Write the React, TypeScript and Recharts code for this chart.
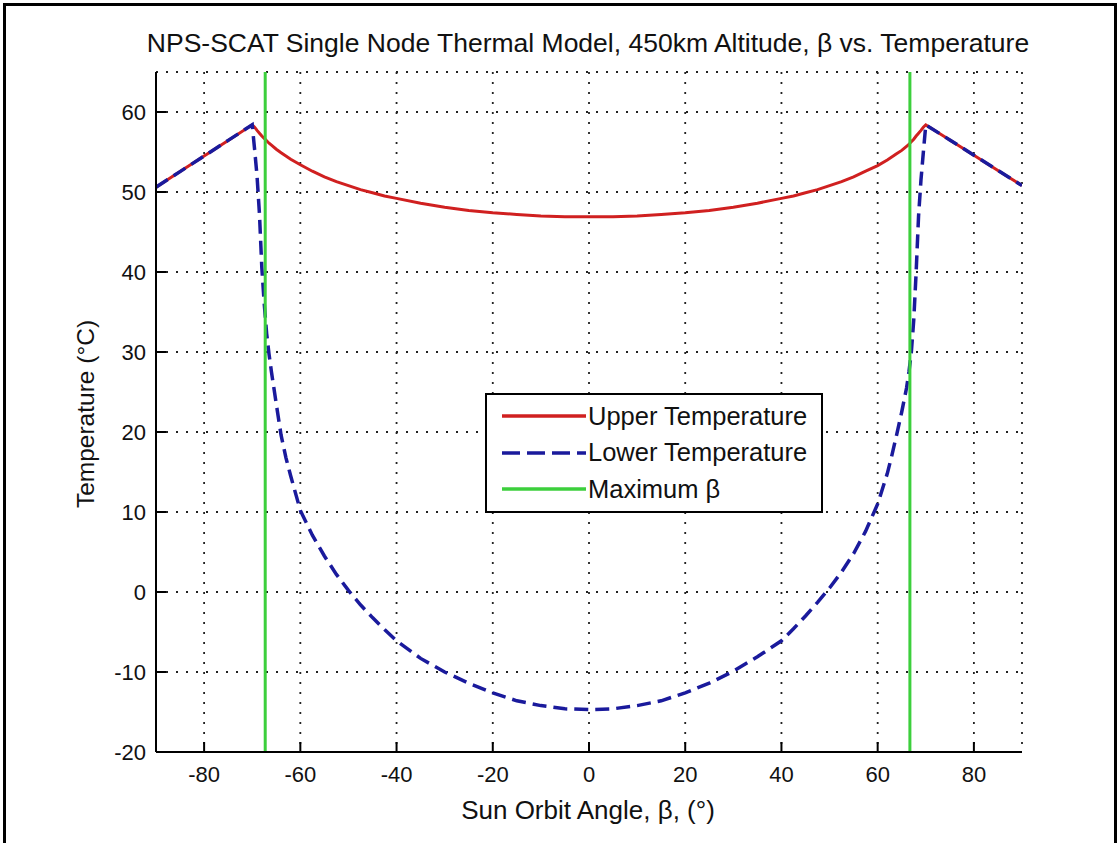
import { LineChart, Line, XAxis, YAxis, CartesianGrid, Legend } from 'recharts';

// sun orbit angle, deg
const betaDeg = [
  -90, -85, -80, -75, -70, -69.5, -69, -68.5, -68, -67.5, -67, -66.5, -66, -65, -64, -63, -62, -60,
  -57.5, -55, -52.5, -50, -47.5, -45, -42.5, -40, -35, -30, -25, -20, -15, -10, -5, 0,
  5, 10, 15, 20, 25, 30, 35, 40, 42.5, 45, 47.5, 50, 52.5, 55, 57.5, 60,
  62, 63, 64, 65, 66, 66.5, 67, 67.5, 68, 68.5, 69, 69.5, 70, 75, 80, 85, 90,
];

const upperTemp = [
  50.6, 52.55, 54.5, 56.45, 58.4, 58.1, 57.7, 57.35, 57.0, 56.7, 56.4, 56.1, 55.85, 55.35, 54.9, 54.5, 54.1, 53.4,
  52.6, 51.9, 51.3, 50.8, 50.3, 49.9, 49.5, 49.2, 48.6, 48.1, 47.7, 47.4, 47.2, 47.0, 46.9, 46.9,
  46.9, 47.0, 47.2, 47.4, 47.7, 48.1, 48.6, 49.2, 49.5, 49.9, 50.3, 50.8, 51.3, 51.9, 52.6, 53.3,
  54.0, 54.4, 54.8, 55.2, 55.7, 55.95, 56.3, 56.6, 57.0, 57.35, 57.7, 58.1, 58.4, 56.5, 54.6, 52.7, 50.8,
];

const lowerTemp = [
  50.6, 52.55, 54.5, 56.45, 58.4, 55.3, 52.0, 47.3, 40.5, 36.0, 32.3, 29.7, 27.5, 23.5, 19.6, 16.8, 14.5, 10.2,
  7.1, 4.5, 2.2, 0.2, -1.6, -3.2, -4.7, -6.1, -8.3, -10.0, -11.4, -12.6, -13.6, -14.2, -14.6, -14.7,
  -14.6, -14.2, -13.6, -12.6, -11.4, -9.9, -8.1, -6.1, -4.6, -3.0, -1.3, 0.5, 2.5, 4.8, 7.6, 11.0,
  14.8, 17.2, 19.8, 22.5, 25.5, 27.5, 30.0, 34.0, 40.0, 47.0, 51.5, 55.0, 58.4, 56.5, 54.6, 52.7, 50.8,
];

const maxBeta = [-67.3, 66.7];

const xTicks = [-80, -60, -40, -20, 0, 20, 40, 60, 80];
const yTicks = [-20, -10, 0, 10, 20, 30, 40, 50, 60];

const FONT = '"Liberation Sans", Arial, Helvetica, sans-serif';
const RED = '#d02020';
const BLUE = '#1a1a9c';
const GREEN = '#3ccf3c';

const data = betaDeg.map((beta, i) => ({ beta, upper: upperTemp[i], lower: lowerTemp[i] }));
const maxBetaData = maxBeta.flatMap((b) => [
  { beta: b, t: -20 },
  { beta: b, t: 65 },
  { beta: b, t: null },
]);

const legendRows = [
  { name: 'Upper Temperature', color: RED, dash: undefined },
  { name: 'Lower Temperature', color: BLUE, dash: '18 7' },
  { name: 'Maximum β', color: GREEN, dash: undefined },
];

const EmptyTick = () => <g />;

function LegendBox() {
  return (
    <div
      style={{
        width: 338,
        height: 120,
        boxSizing: 'border-box',
        border: '2px solid #000',
        background: '#fff',
        paddingTop: 3,
        fontFamily: FONT,
        fontSize: 25.5,
        color: '#111',
      }}
    >
      {legendRows.map((r) => (
        <div key={r.name} style={{ height: 36.5, display: 'flex', alignItems: 'center' }}>
          <svg width={100} height={10} style={{ marginLeft: 13, flex: 'none' }}>
            <line x1={2} y1={5} x2={86} y2={5} stroke={r.color} strokeWidth={3.5} strokeDasharray={r.dash} />
          </svg>
          <span style={{ marginLeft: -12, lineHeight: '25px', whiteSpace: 'nowrap' }}>{r.name}</span>
        </div>
      ))}
    </div>
  );
}

const axisLine = { stroke: '#000', strokeWidth: 2 };
const tickStyle = { fill: '#111', fontSize: 22, fontFamily: FONT };

export default function App() {
  return (
    <div
      style={{
        position: 'absolute',
        left: 0,
        top: 0,
        width: 1120,
        height: 843,
        overflow: 'hidden',
        background: '#fff',
        fontFamily: FONT,
      }}
    >
      <div
        style={{
          position: 'absolute',
          left: 3,
          top: 3,
          width: 1114,
          height: 900,
          boxSizing: 'border-box',
          borderLeft: '3px solid #000',
          borderTop: '3px solid #000',
          borderRight: '3px solid #000',
        }}
      />
      <div
        style={{
          position: 'absolute',
          left: 0,
          top: 30,
          width: 1176,
          textAlign: 'center',
          fontSize: 26.5,
          lineHeight: '26px',
          color: '#111',
          whiteSpace: 'nowrap',
        }}
      >
        NPS-SCAT Single Node Thermal Model, 450km Altitude, β vs. Temperature
      </div>
      <div
        style={{
          position: 'absolute',
          left: 0,
          top: 797,
          width: 1176,
          textAlign: 'center',
          fontSize: 26,
          lineHeight: '26px',
          color: '#111',
          whiteSpace: 'nowrap',
        }}
      >
        Sun Orbit Angle, β, (°)
      </div>
      <div
        style={{
          position: 'absolute',
          left: 86,
          top: 414,
          transform: 'translate(-50%, -50%) rotate(-90deg)',
          fontSize: 24.5,
          lineHeight: '24px',
          color: '#111',
          whiteSpace: 'nowrap',
        }}
      >
        Temperature (°C)
      </div>
      <div style={{ position: 'absolute', left: 0, top: 0 }}>
        <LineChart width={1120} height={843} data={data} margin={{ top: 72, right: 98, bottom: 51, left: 96 }}>
          <CartesianGrid stroke="#222" strokeWidth={1.8} strokeDasharray="2 8" />
          <XAxis
            dataKey="beta"
            type="number"
            domain={[-90, 90]}
            ticks={xTicks}
            allowDataOverflow
            height={40}
            axisLine={axisLine}
            tickLine={axisLine}
            tickSize={-10}
            tickMargin={24}
            tick={tickStyle}
          />
          <XAxis
            xAxisId="top"
            orientation="top"
            type="number"
            domain={[-90, 90]}
            ticks={xTicks}
            allowDataOverflow
            height={0}
            axisLine={axisLine}
            tickLine={axisLine}
            tickSize={-10}
            tick={EmptyTick}
          />
          <YAxis
            type="number"
            domain={[-20, 65]}
            ticks={yTicks}
            allowDataOverflow
            width={60}
            axisLine={axisLine}
            tickLine={axisLine}
            tickSize={-10}
            tickMargin={20}
            tick={tickStyle}
          />
          <YAxis
            yAxisId="right"
            orientation="right"
            type="number"
            domain={[-20, 65]}
            ticks={yTicks}
            allowDataOverflow
            width={0}
            axisLine={axisLine}
            tickLine={axisLine}
            tickSize={-10}
            tick={EmptyTick}
          />
          <Line
            type="linear"
            dataKey="upper"
            name="Upper Temperature"
            stroke={RED}
            strokeWidth={3}
            dot={false}
            isAnimationActive={false}
          />
          <Line
            type="linear"
            dataKey="lower"
            name="Lower Temperature"
            stroke={BLUE}
            strokeWidth={3.5}
            strokeDasharray="14 7"
            dot={false}
            isAnimationActive={false}
          />
          <Line
            type="linear"
            data={maxBetaData}
            dataKey="t"
            name="Maximum β"
            stroke={GREEN}
            strokeWidth={3}
            dot={false}
            isAnimationActive={false}
          />
          <Legend
            layout="vertical"
            align="center"
            verticalAlign="middle"
            content={LegendBox}
            wrapperStyle={{ position: 'absolute', left: 485, top: 393, width: 338, height: 120 }}
          />
        </LineChart>
      </div>
    </div>
  );
}
